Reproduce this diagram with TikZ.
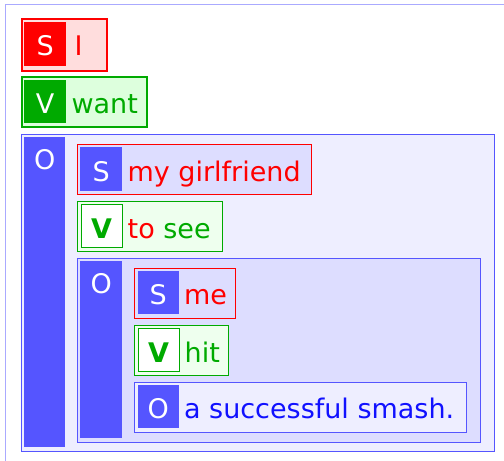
\documentclass[tikz,border=0pt]{standalone}
\usepackage{fontspec}
\setmainfont{DejaVu Sans}
\usetikzlibrary{positioning}

\definecolor{sred}{HTML}{FF0000}
\definecolor{sgreen}{HTML}{00AA00}
\definecolor{oblue}{HTML}{5555FF}
\definecolor{otext}{HTML}{1111FF}
\definecolor{pinkfill}{HTML}{FFDDDD}
\definecolor{greenfill}{HTML}{DDFFDD}
\definecolor{palegreen}{HTML}{EEFFEE}
\definecolor{lavender}{HTML}{EEEEFF}
\definecolor{lilac}{HTML}{DDDDFF}
\definecolor{pageline}{HTML}{AAAAFF}

\begin{document}
\begin{tikzpicture}[
  x=1pt, y=-1pt,
  font=\fontsize{27}{32}\selectfont,
  frame/.style={draw, anchor=north west, inner sep=0pt, minimum height=50pt, line width=1pt},
  tag/.style={anchor=north west, inner sep=0pt, minimum width=42pt, minimum height=44pt,
    text height=24pt, text depth=0pt, text=white},
  vtag/.style={tag, draw=sgreen, line width=1pt, fill=white, text=sgreen, minimum width=41pt,
    minimum height=43pt, font=\fontsize{27}{32}\selectfont\bfseries},
  bar/.style={anchor=north west, inner sep=0pt, fill=oblue, minimum width=42pt},
  word/.style={inner sep=0pt, anchor=base west}
]
\useasboundingbox (0,0) rectangle (504,461);
\fill[white] (0,0) rectangle (504,461);
\draw[pageline, line width=1pt] (5,462) -- (5,4) -- (505,4);

% subject and verb of the main clause
\node[frame, draw=sred, fill=pinkfill, line width=2pt, minimum width=85pt, minimum height=52pt] (sframe) at (21,18) {};
\node[tag, fill=sred, below right=3.5pt and 3pt of sframe.north west] (stag) {S};
\node[word, text=sred, right=8pt of stag.base east, anchor=base west] (sword) {I};

\node[frame, draw=sgreen, fill=greenfill, line width=2pt, minimum width=125pt] (vframe) at (21,76) {};
\node[tag, fill=sgreen, minimum height=43pt, below right=3.5pt and 3pt of vframe.north west] (vtag) {V};
\node[word, text=sgreen, right=5pt of vtag.base east, anchor=base west] (vword) {want};

% object clause
\node[frame, draw=oblue, fill=lavender, minimum width=473pt, minimum height=317pt] (oframe) at (20.5,133.5) {};
\node[bar, minimum width=41pt, minimum height=310pt, below right=3.5pt and 3.5pt of oframe.north west] (obar) {};
\node[word, text=white, below=32pt of obar.north, anchor=base] (otag) {O};

\node[frame, draw=sred, fill=lilac, minimum width=234pt] (gframe) at (76.5,143.5) {};
\node[tag, fill=oblue, below right=3.5pt and 3.5pt of gframe.north west] (gtag) {S};
\node[word, text=sred, right=5pt of gtag.base east, anchor=base west] (gword) {my girlfriend};

\node[frame, draw=sgreen, fill=palegreen, minimum width=145pt] (tframe) at (76.5,200.5) {};
\node[vtag, below right=3.5pt and 4pt of tframe.north west] (ttag) {V};
\node[word, text=sgreen, right=5pt of ttag.base east, anchor=base west] (tword) {{\color{sred}to} see};

% inner object clause
\node[frame, draw=oblue, fill=lilac, minimum width=403pt, minimum height=184pt] (iframe) at (76.5,257.5) {};
\node[bar, minimum height=177pt, below right=3.5pt and 3.5pt of iframe.north west] (ibar) {};
\node[word, text=white, below=32pt of ibar.north, anchor=base] (itag) {O};

\node[frame, draw=sred, fill=lilac, minimum width=101pt] (mframe) at (133.5,267.5) {};
\node[tag, fill=oblue, minimum width=41pt, minimum height=43pt, below right=3.5pt and 4pt of mframe.north west] (mtag) {S};
\node[word, text=sred, right=5pt of mtag.base east, anchor=base west] (mword) {me};

\node[frame, draw=sgreen, fill=palegreen, minimum width=94pt] (hframe) at (133.5,324.5) {};
\node[vtag, below right=3.5pt and 4pt of hframe.north west] (htag) {V};
\node[word, text=sgreen, right=5pt of htag.base east, anchor=base west] (hword) {hit};

\node[frame, draw=oblue, fill=lavender, minimum width=332pt] (aframe) at (133.5,381.5) {};
\node[tag, fill=oblue, minimum width=41pt, minimum height=43pt, below right=3.5pt and 4pt of aframe.north west] (atag) {O};
\node[word, text=otext, right=5pt of atag.base east, anchor=base west] (aword) {a successful smash.};
\end{tikzpicture}
\end{document}
